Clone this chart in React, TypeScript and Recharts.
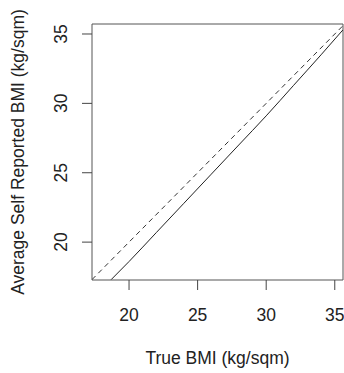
import React from "react";
import { LineChart, Line, XAxis, YAxis, ReferenceArea } from "recharts";

// Smoothed average self-reported BMI vs true BMI (solid line)
const trueBmi = [18.7, 20, 22, 24, 26, 28, 30, 32, 34, 35.6];
const avgReported = [17.3, 18.6, 20.7, 22.8, 24.9, 27.0, 29.1, 31.3, 33.5, 35.3];
// Identity reference line (dashed)
const identityX = [17.3, 35.6];
const identityY = [17.3, 35.6];

const xTicks = [20, 25, 30, 35];
const yTicks = [20, 25, 30, 35];
const xDomain = [17.3, 35.6];
const yDomain = [17.27, 35.72];

const xTitle = "True BMI (kg/sqm)";
const yTitle = "Average Self Reported BMI (kg/sqm)";

const solidData = trueBmi.map((x, i) => ({ x, y: avgReported[i] }));
const dashedData = identityX.map((x, i) => ({ x, y: identityY[i] }));

const FONT = "'Liberation Sans', Arial, sans-serif";
const FS = 17.5;
const TXT = "#222";

const XTick = (props: any) => {
  const { x, y, payload } = props;
  return (
    <text x={x} y={y + 29} textAnchor="middle" fontFamily={FONT} fontSize={FS} fill={TXT}>
      {payload.value}
    </text>
  );
};

const YTick = (props: any) => {
  const { x, y, payload } = props;
  const bx = x - 13;
  return (
    <text
      x={bx}
      y={y}
      transform={`rotate(-90, ${bx}, ${y})`}
      textAnchor="middle"
      fontFamily={FONT}
      fontSize={FS}
      fill={TXT}
    >
      {payload.value}
    </text>
  );
};

export default function App() {
  return (
    <div style={{ position: "absolute", left: 0, top: 0, width: 344, height: 373, background: "#fff" }}>
      <LineChart width={344} height={373} margin={{ top: 24, right: 1, bottom: 0, left: 0 }}>
        <XAxis
          type="number"
          dataKey="x"
          domain={xDomain}
          allowDataOverflow
          ticks={xTicks}
          tick={<XTick />}
          tickSize={10}
          tickLine={{ stroke: "#444" }}
          axisLine={false}
          height={93}
          label={{
            content: (p: any) => {
              const vb = p.viewBox;
              return (
                <text
                  x={vb.x + vb.width / 2}
                  y={364}
                  textAnchor="middle"
                  fontFamily={FONT}
                  fontSize={FS}
                  fill={TXT}
                >
                  {xTitle}
                </text>
              );
            },
          }}
        />
        <YAxis
          type="number"
          dataKey="y"
          domain={yDomain}
          allowDataOverflow
          ticks={yTicks}
          tick={<YTick />}
          tickSize={10}
          tickLine={{ stroke: "#444" }}
          axisLine={false}
          width={92}
          label={{
            content: (p: any) => {
              const vb = p.viewBox;
              const cy = vb.y + vb.height / 2;
              return (
                <text
                  x={24}
                  y={cy}
                  transform={`rotate(-90, 24, ${cy})`}
                  textAnchor="middle"
                  fontFamily={FONT}
                  fontSize={FS}
                  fill={TXT}
                >
                  {yTitle}
                </text>
              );
            },
          }}
        />
        <ReferenceArea
          x1={xDomain[0]}
          x2={xDomain[1]}
          y1={yDomain[0]}
          y2={yDomain[1]}
          fill="none"
          stroke="#555"
          strokeWidth={1}
          ifOverflow="visible"
        />
        <Line
          data={dashedData}
          dataKey="y"
          type="linear"
          stroke="#333"
          strokeWidth={1}
          strokeDasharray="5 4"
          dot={false}
          isAnimationActive={false}
        />
        <Line
          data={solidData}
          dataKey="y"
          type="monotone"
          stroke="#222"
          strokeWidth={1}
          dot={false}
          isAnimationActive={false}
        />
      </LineChart>
    </div>
  );
}
